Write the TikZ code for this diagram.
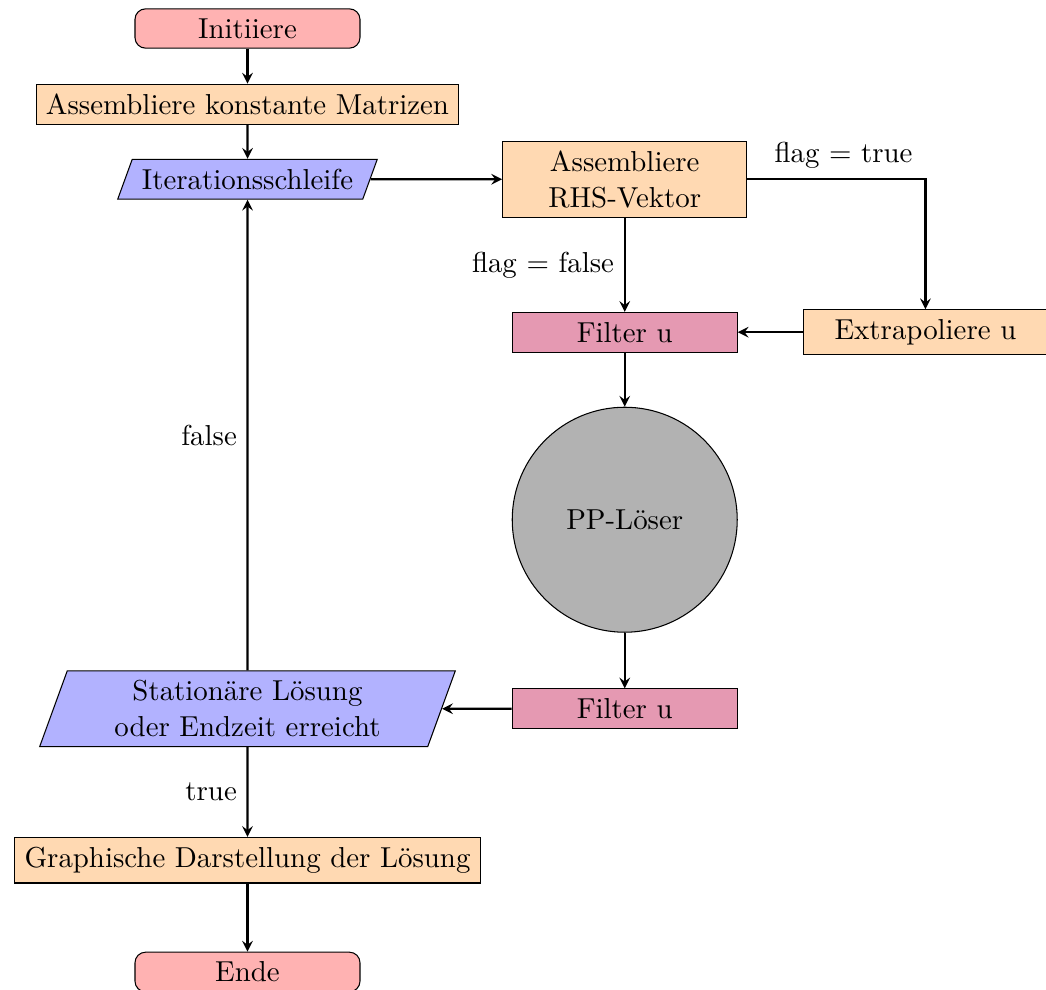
\documentclass[tikz,border=0pt,11pt]{standalone}
\usetikzlibrary{shapes.geometric,arrows}

\tikzset{
  startstop/.style={rectangle, rounded corners, minimum width=3cm, draw=black, fill=red!30},
  process/.style={rectangle, minimum width=3cm, draw=black, fill=orange!30},
  io/.style={trapezium, trapezium left angle=70, trapezium right angle=110, minimum width=3cm, draw=black, fill=blue!30},
  filterbox/.style={rectangle, minimum width=3cm, draw=black, fill=purple!40},
  solver/.style={circle, minimum size=3cm, draw=black, fill=black!30},
  pfeil/.style={thick, ->, >=stealth},
}

\begin{document}
\begin{tikzpicture}
  \useasboundingbox (0,0) rectangle (13.947,-13.2);
  \node[startstop] (init)   at ( 3.30, -0.38) {Initiiere};
  \node[process  ] (akm)    at ( 3.30, -1.39) {Assembliere konstante Matrizen};
  \node[io       ] (iter)   at ( 3.30, -2.39) {Iterationsschleife};
  \node[process, text width=3cm, align=center] (rhs) at ( 8.33, -2.39) {Assembliere\\RHS-Vektor};
  \node[filterbox] (filt1)  at ( 8.33, -4.43) {Filter u};
  \node[process, text width=3cm, align=center] (extra) at (12.34, -4.43) {Extrapoliere u};
  \node[solver   ] (pp)     at ( 8.33, -6.93) {PP-Löser};
  \node[filterbox] (filt2)  at ( 8.33, -9.45) {Filter u};
  \node[io, text width=4.55cm, align=center] (stat) at ( 3.30, -9.45) {Stationäre Lösung\\oder Endzeit erreicht};
  \node[process  ] (graph)  at ( 3.30,-11.47) {Graphische Darstellung der Lösung};
  \node[startstop] (ende)   at ( 3.30,-12.96) {Ende};

  \draw[pfeil] (init)  -- (akm);
  \draw[pfeil] (akm)   -- (iter);
  \draw[pfeil] (iter)  -- (rhs);
  \draw[pfeil] (rhs)   -- node[left]{flag = false} (filt1);
  \draw[pfeil] (rhs)   -| node[above, pos=0.27]{flag = true} (extra);
  \draw[pfeil] (extra) -- (filt1);
  \draw[pfeil] (filt1) -- (pp);
  \draw[pfeil] (pp)    -- (filt2);
  \draw[pfeil] (filt2) -- (stat);
  \draw[pfeil] (stat)  -- node[left]{false} (iter);
  \draw[pfeil] (stat)  -- node[left]{true} (graph);
  \draw[pfeil] (graph) -- (ende);
\end{tikzpicture}
\end{document}
